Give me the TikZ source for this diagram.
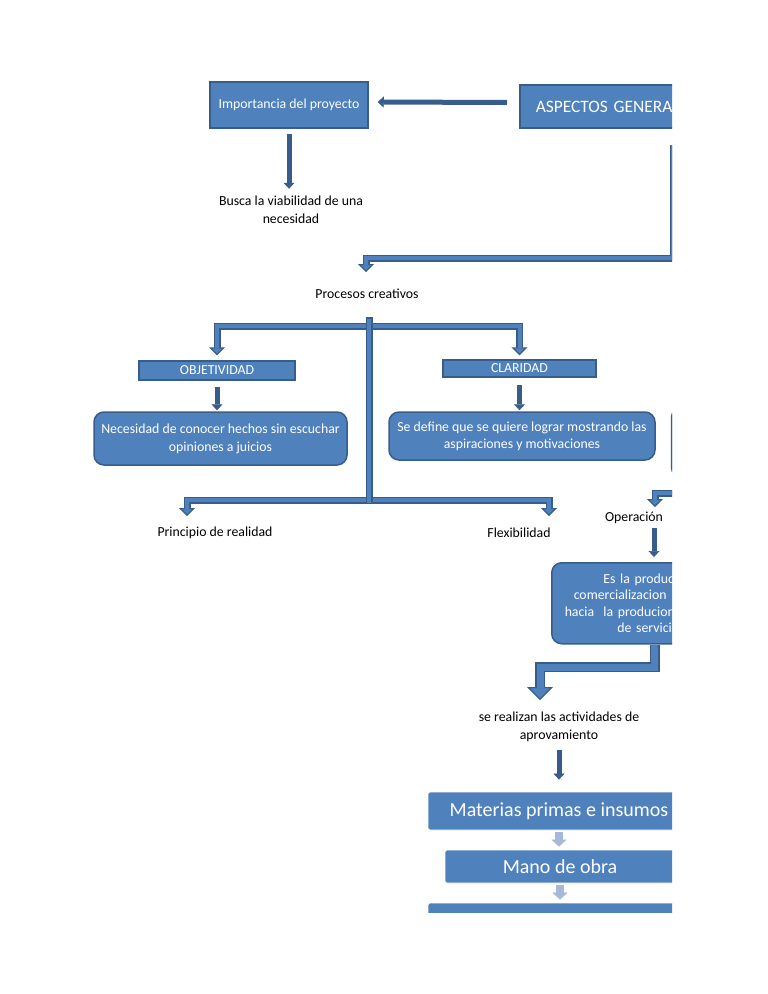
\documentclass[tikz,border=0pt]{standalone}
\usepackage{fontspec}
\setmainfont{Carlito}
\usetikzlibrary{arrows.meta}
\definecolor{blueA}{HTML}{4F81BD}
\definecolor{blueD}{HTML}{385D8A}
\definecolor{blueL}{HTML}{A7B9DA}

\begin{document}
\begin{tikzpicture}[x=1pt, y=-1pt, thick]
	\tikzstyle{box}=[rectangle, draw=blueD, fill=blueA, line width=1.5pt, text=white, inner sep=0pt, align=center, font=\fontsize{13.8}{18}\selectfont]
	\tikzstyle{rbox}=[box, rounded corners=10pt]
	\tikzstyle{sbox}=[rectangle, draw=white, fill=blueA, line width=0.8pt, rounded corners=2pt, text=white, font=\fontsize{20}{24}\selectfont]
	\tikzstyle{txt}=[align=center, inner sep=0pt, font=\fontsize{13.8}{18}\selectfont]
	\tikzstyle{darrow}=[draw=blueD, line width=5pt, -{Triangle[width=11pt,length=6pt,line width=0.6pt]}]
	\tikzstyle{lightarrow}=[draw=blueL, line width=8pt, -{Triangle[width=15pt,length=7pt,line width=0.5pt]}]
	\tikzstyle{pipe}=[draw=blueD, line width=7pt, line join=miter, -{Triangle[width=16pt,length=8pt,line width=1.2pt,fill=blueA]}, postaction={draw=blueA, line width=4pt, line join=miter, arrows=-, shorten >=7pt}]
	\tikzstyle{bigpipe}=[draw=blueD, line width=10pt, line join=miter, -{Triangle[width=26pt,length=13pt,line width=1.2pt,fill=blueA]}, postaction={draw=blueA, line width=7pt, line join=miter, arrows=-, shorten >=12pt}]
	\tikzstyle{bar}=[draw=blueD, line width=7pt, postaction={draw=blueA, line width=4pt, shorten <=1.5pt, shorten >=1.5pt}]
	
	\useasboundingbox (0,0) rectangle (768,994);
	\begin{scope}
	\clip (0,0) rectangle (672,912);
	
	% Kopf
	\node[box, minimum width=158pt, minimum height=46pt] (imp) at (289,105) {Importancia del proyecto};
	\node[box, anchor=west, minimum height=43pt, text width=140pt, align=left, inner xsep=16pt, font=\fontsize{17.4}{20}\selectfont] (asp) at (519,106.5) {ASPECTOS GENERA};
	\node[txt] (busca) at (291,210) {Busca la viabilidad de una\\necesidad};
	\node[txt] (proc) at (367,294) {Procesos creativos};
	
	% Zweige
	\node[box, minimum width=156pt, minimum height=19pt, font=\fontsize{13.8}{15}\selectfont] (obj) at (217,370.5) {OBJETIVIDAD};
	\node[box, minimum width=153pt, minimum height=17pt, font=\fontsize{13.8}{15}\selectfont] (cla) at (519.5,368.5) {CLARIDAD};
	\node[rbox, minimum width=253pt, minimum height=53pt] (nec) at (220.5,438.5) {Necesidad de conocer hechos sin escuchar\\opiniones a juicios};
	\node[rbox, minimum width=266pt, minimum height=48pt, font=\fontsize{13.8}{17}\selectfont] (sed) at (522,436) {Se define que se quiere lograr mostrando las\\aspiraciones y motivaciones};
	\node[rbox, anchor=west, minimum width=60pt, minimum height=70pt] (rest) at (670.8,442.5) {};
	\node[txt] (princ) at (215,533) {Principio de realidad};
	\node[txt] (flex) at (519,533) {Flexibilidad};
	\node[txt] (oper) at (634,518) {Operación};
	
	% Operacion
	\node[rbox, anchor=north west, minimum height=81pt, text width=160pt, align=left, inner xsep=13pt, font=\fontsize{13.8}{16.5}\selectfont] (prod) at (551,562) {\hspace*{38.7pt}Es la produc\\\hspace*{9pt}comercializacion\\hacia\ \ la producion\\\hspace*{52.7pt}de servici};
	\node[txt] (realiz) at (559,727) {se realizan las actividades de\\aprovamiento};
	\node[sbox, minimum width=262pt, minimum height=38pt] (mat) at (559,811) {Materias primas e insumos};
	\node[sbox, minimum width=230pt, minimum height=33pt] (mano) at (560,866.5) {Mano de obra};
	\node[sbox, minimum width=262pt, minimum height=38pt] (third) at (559,922) {};
	
	% Pfeile oben
	\draw[darrow, shorten <=12pt, shorten >=9pt] ([yshift=4pt]asp.west) -- ([yshift=3pt]imp.east);
	\draw[darrow, shorten <=5pt, shorten >=7pt] (imp.south) -- (imp.south |- busca.north);
	\coordinate (k0) at (673,145);
	\coordinate (k1) at (673,258);
	\coordinate (k2) at (366,272);
	\draw[pipe] (k0) -- (k1) -| (k2);
	
	% Baum unter Procesos creativos
	\coordinate (hub) at (369,326);
	\coordinate (hub2) at (369,500);
	\coordinate (tp) at (187,516);
	\coordinate (tf) at (549,516);
	\draw[pipe] (hub) -| ([yshift=5pt]obj.north);
	\draw[pipe] (hub) -| ([yshift=4pt]cla.north);
	\draw[pipe] (hub2) -| (tp);
	\draw[pipe] (hub2) -| (tf);
	\coordinate (stemtop) at (369,317);
	\coordinate (stembot) at (369,504);
	\draw[bar] (stemtop) -- (stembot);
	\draw[darrow, shorten <=6pt, shorten >=1pt] (obj.south) -- (obj.south |- nec.north);
	\draw[darrow, shorten <=7pt, shorten >=1pt] (cla.south) -- (cla.south |- sed.north);
	
	% rechts unten
	\coordinate (o1) at (690,493);
	\coordinate (o2) at (655,507);
	\draw[pipe] (o1) -| (o2);
	\coordinate (c7) at (654,528);
	\draw[darrow, shorten >=5pt] (c7) -- (c7 |- prod.north);
	\coordinate (b1) at (654.5,667);
	\coordinate (b2) at (540,700);
	\draw[bigpipe] (prod.south -| b1) -- (b1) -| (b2);
	\draw[darrow, shorten <=8pt, shorten >=12pt] (realiz.south) -- (realiz.south |- mat.north);
	\draw[lightarrow, shorten <=2pt, shorten >=3pt] (mat.south) -- (mat.south |- mano.north);
	\draw[lightarrow, shorten <=2pt, shorten >=3pt] (mano.south) -- (mano.south |- third.north);
	\end{scope}
\end{tikzpicture}
\end{document}
